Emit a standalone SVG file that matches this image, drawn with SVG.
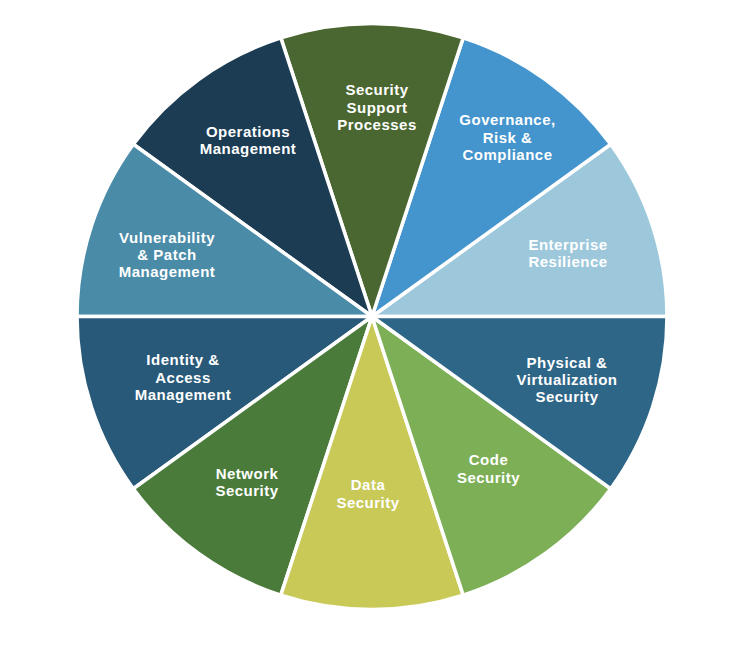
<svg xmlns="http://www.w3.org/2000/svg" width="734" height="658" viewBox="0 0 734 658">
<style>
.seg{stroke:#ffffff;stroke-width:3.5;stroke-linejoin:round}
.lbl{font-family:"Liberation Sans",Arial,sans-serif;font-weight:bold;font-size:15px;letter-spacing:0.5px;fill:#ffffff;text-anchor:middle}
</style>
<rect width="734" height="658" fill="#ffffff"/>
<g id="segments">
<g id="enterprise-resilience">
<path class="seg" fill="#9DC8DC" d="M372 316.5 L667 316.5 A295 293 0 0 0 610.66 144.28 Z"/>
<text class="lbl"><tspan x="568" y="249.5">Enterprise</tspan><tspan x="568" y="267">Resilience</tspan></text>
</g>
<g id="governance">
<path class="seg" fill="#4494CD" d="M372 316.5 L610.66 144.28 A295 293 0 0 0 463.16 37.84 Z"/>
<text class="lbl"><tspan x="507.5" y="125">Governance,</tspan><tspan x="507.5" y="142.5">Risk &amp;</tspan><tspan x="507.5" y="160">Compliance</tspan></text>
</g>
<g id="security-support">
<path class="seg" fill="#4A6731" d="M372 316.5 L463.16 37.84 A295 293 0 0 0 280.84 37.84 Z"/>
<text class="lbl"><tspan x="377" y="95">Security</tspan><tspan x="377" y="112.5">Support</tspan><tspan x="377" y="130">Processes</tspan></text>
</g>
<g id="operations">
<path class="seg" fill="#1B3C53" d="M372 316.5 L280.84 37.84 A295 293 0 0 0 133.34 144.28 Z"/>
<text class="lbl"><tspan x="248" y="136.5">Operations</tspan><tspan x="248" y="154">Management</tspan></text>
</g>
<g id="vulnerability">
<path class="seg" fill="#4A8BA8" d="M372 316.5 L133.34 144.28 A295 293 0 0 0 77 316.5 Z"/>
<text class="lbl"><tspan x="167" y="242.5">Vulnerability</tspan><tspan x="167" y="260">&amp; Patch</tspan><tspan x="167" y="277">Management</tspan></text>
</g>
<g id="identity">
<path class="seg" fill="#285978" d="M372 316.5 L77 316.5 A295 293 0 0 0 133.34 488.72 Z"/>
<text class="lbl"><tspan x="183" y="365">Identity &amp;</tspan><tspan x="183" y="382.5">Access</tspan><tspan x="183" y="399.5">Management</tspan></text>
</g>
<g id="network">
<path class="seg" fill="#4A7B3A" d="M372 316.5 L133.34 488.72 A295 293 0 0 0 280.84 595.16 Z"/>
<text class="lbl"><tspan x="247" y="478.5">Network</tspan><tspan x="247" y="496">Security</tspan></text>
</g>
<g id="data">
<path class="seg" fill="#C8C957" d="M372 316.5 L280.84 595.16 A295 293 0 0 0 463.16 595.16 Z"/>
<text class="lbl"><tspan x="368" y="490">Data</tspan><tspan x="368" y="507.5">Security</tspan></text>
</g>
<g id="code">
<path class="seg" fill="#7DAF57" d="M372 316.5 L463.16 595.16 A295 293 0 0 0 610.66 488.72 Z"/>
<text class="lbl"><tspan x="488.5" y="465">Code</tspan><tspan x="488.5" y="482.5">Security</tspan></text>
</g>
<g id="physical">
<path class="seg" fill="#2E6687" d="M372 316.5 L610.66 488.72 A295 293 0 0 0 667 316.5 Z"/>
<text class="lbl"><tspan x="567" y="368">Physical &amp;</tspan><tspan x="567" y="385">Virtualization</tspan><tspan x="567" y="402">Security</tspan></text>
</g>
</g>
</svg>
